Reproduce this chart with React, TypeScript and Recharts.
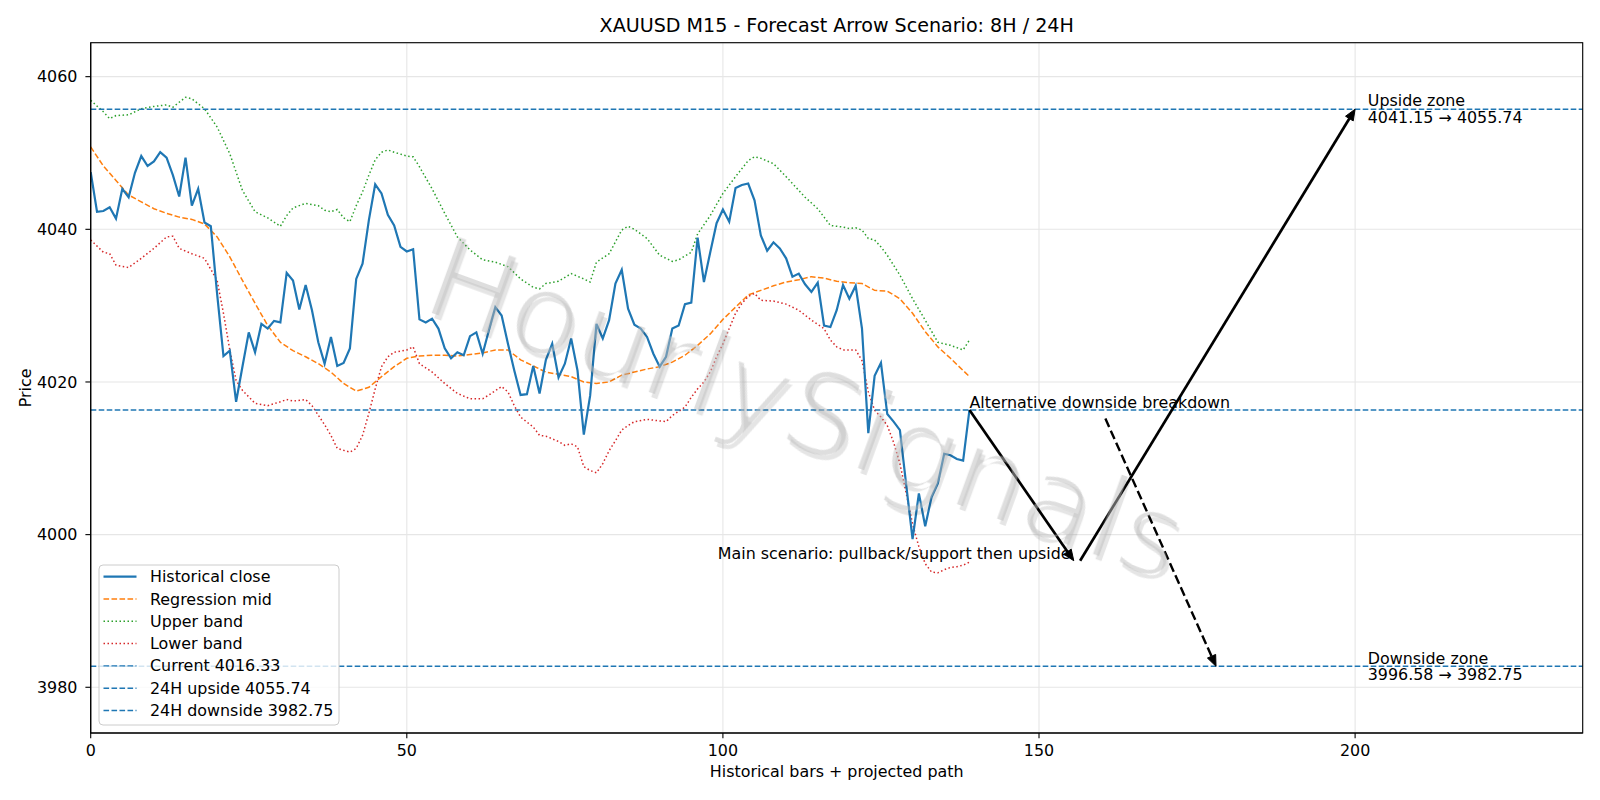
import React from "react";
import { LineChart, Line, XAxis, YAxis, CartesianGrid, ReferenceLine, ReferenceDot } from "recharts";

// M15 closes, oldest first (bar index = position in the array)
const closes = [
  4047.5, 4042.3, 4042.4, 4042.9, 4041.4, 4045.3, 4044.2, 4047.4, 4049.6, 4048.3,
  4048.9, 4050.1, 4049.4, 4047.1, 4044.3, 4049.4, 4043.1, 4045.3, 4040.9, 4040.4,
  4031.5, 4023.4, 4024.1, 4017.4, 4022.0, 4026.5, 4023.9, 4027.6, 4027.0, 4028.0,
  4027.8, 4034.3, 4033.3, 4029.5, 4032.7, 4029.4, 4025.2, 4022.4, 4025.9, 4022.1,
  4022.5, 4024.4, 4033.5, 4035.5, 4041.2, 4045.9, 4044.7, 4041.9, 4040.5, 4037.7,
  4037.1, 4037.4, 4028.2, 4027.8, 4028.3, 4027.0, 4024.4, 4023.1, 4023.9, 4023.5,
  4026.0, 4026.5, 4023.7, 4026.8, 4029.8, 4028.7, 4025.0, 4021.5, 4018.3, 4018.4,
  4022.1, 4018.5, 4022.9, 4025.0, 4020.6, 4022.4, 4025.7, 4021.5, 4013.1, 4018.2,
  4027.6, 4025.7, 4028.1, 4032.9, 4034.7, 4029.6, 4027.5, 4027.0, 4025.9, 4023.7,
  4022.0, 4023.3, 4027.0, 4027.4, 4030.2, 4030.4, 4038.9, 4033.1, 4037.0, 4040.8,
  4042.6, 4041.0, 4045.4, 4045.8, 4046.0, 4043.8, 4039.2, 4037.2, 4038.3, 4037.5,
  4036.2, 4033.8, 4034.2, 4032.8, 4031.8, 4033.0, 4027.4, 4027.2, 4029.4, 4032.7,
  4030.9, 4032.6, 4027.0, 4013.3, 4020.8, 4022.5, 4015.8, 4014.8, 4013.7, 4006.5,
  3999.4, 4005.4, 4001.1, 4004.9, 4006.7, 4010.6, 4010.4, 4009.9, 4009.7, 4016.33,
];

const midBars = [
  0, 2, 4, 6, 8, 10, 12, 14, 16, 18, 20, 22, 24, 26, 28, 30, 32, 34, 36, 38, 40, 42, 44, 46, 48,
  50, 52, 54, 56, 58, 60, 62, 64, 66, 68, 70, 72, 74, 76, 78, 80, 82, 84, 86, 88, 90, 92, 94, 96,
  98, 100, 102, 104, 106, 108, 110, 112, 114, 116, 118, 120, 122, 124, 126, 128, 130, 132, 134,
  136, 138, 139,
];
const midValues = [
  4050.8, 4048.3, 4046.4, 4044.5, 4043.6, 4042.7, 4042.1, 4041.6, 4041.3, 4040.7, 4039.0, 4036.4,
  4033.3, 4030.3, 4027.4, 4025.2, 4024.1, 4023.3, 4022.4, 4021.3, 4019.8, 4018.8, 4019.3, 4020.7,
  4022.0, 4023.1, 4023.4, 4023.5, 4023.5, 4023.4, 4023.6, 4023.8, 4024.2, 4024.2, 4022.9, 4022.1,
  4021.3, 4021.0, 4020.7, 4020.0, 4019.8, 4020.0, 4020.9, 4021.3, 4021.7, 4022.0, 4022.6, 4023.5,
  4024.8, 4026.3, 4028.2, 4029.8, 4031.4, 4032.0, 4032.6, 4033.1, 4033.4, 4033.8, 4033.6, 4033.2,
  4033.0, 4032.9, 4032.0, 4031.9, 4030.9, 4029.0, 4026.6, 4024.6, 4023.1, 4021.5, 4020.7,
];

const upperBars = [
  0, 2, 3, 4, 6, 8, 10, 12, 13, 15, 16, 18, 20, 22, 24, 26, 28, 30, 31, 32, 34, 36, 37, 38, 39,
  40, 41, 42, 43, 44, 45, 46, 47, 48, 50, 51, 52, 54, 56, 58, 60, 62, 64, 66, 68, 70, 71, 72, 74,
  76, 78, 79, 80, 82, 84, 85, 86, 88, 90, 92, 93, 95, 96, 98, 100, 102, 104, 105, 106, 108, 110,
  111, 113, 115, 116, 117, 119, 120, 121, 122, 123, 124, 125, 126, 128, 130, 132, 134, 136, 138,
  139,
];
const upperValues = [
  4056.9, 4055.4, 4054.5, 4054.9, 4055.0, 4055.8, 4056.1, 4056.3, 4056.0, 4057.3, 4057.1, 4055.8,
  4053.4, 4049.9, 4045.1, 4042.3, 4041.5, 4040.4, 4041.8, 4042.8, 4043.4, 4043.1, 4042.5, 4042.3,
  4042.6, 4041.5, 4041.0, 4043.1, 4044.9, 4047.1, 4049.1, 4050.1, 4050.4, 4050.1, 4049.6, 4049.5,
  4048.2, 4045.3, 4042.1, 4039.0, 4037.3, 4036.0, 4035.7, 4035.1, 4033.5, 4032.4, 4032.2, 4032.9,
  4033.2, 4034.2, 4033.5, 4033.1, 4035.7, 4036.8, 4039.9, 4040.4, 4040.0, 4038.8, 4036.6, 4035.8,
  4036.0, 4037.0, 4039.4, 4041.8, 4044.7, 4046.9, 4049.0, 4049.5, 4049.3, 4048.6, 4046.9, 4046.0,
  4044.2, 4042.7, 4041.6, 4040.5, 4040.3, 4040.1, 4040.2, 4039.9, 4038.8, 4038.6, 4037.7, 4036.6,
  4034.0, 4030.9, 4028.1, 4025.2, 4024.8, 4024.2, 4025.5,
];

const lowerBars = [
  0, 2, 3, 4, 6, 8, 10, 12, 13, 14, 16, 18, 20, 21, 22, 23, 24, 26, 28, 30, 31, 32, 34, 35, 37,
  38, 39, 41, 42, 43, 44, 45, 46, 47, 48, 50, 51, 52, 54, 56, 58, 60, 62, 63, 65, 66, 67, 68, 70,
  71, 72, 74, 75, 76, 77, 78, 79, 80, 81, 82, 83, 84, 85, 86, 88, 90, 91, 92, 94, 95, 96, 97, 98,
  99, 100, 101, 102, 103, 104, 105, 106, 108, 110, 112, 114, 116, 117, 118, 119, 121, 122, 123,
  124, 125, 126, 127, 128, 129, 130, 131, 132, 133, 134, 135, 136, 137, 138, 139,
];
const lowerValues = [
  4038.6, 4037.0, 4036.8, 4035.3, 4035.0, 4036.2, 4037.5, 4039.0, 4039.1, 4037.5, 4036.8, 4036.2,
  4033.3, 4029.0, 4024.2, 4020.2, 4018.9, 4017.2, 4016.9, 4017.4, 4017.7, 4017.5, 4017.7, 4016.9,
  4014.4, 4013.0, 4011.3, 4010.8, 4011.3, 4013.0, 4015.9, 4019.1, 4022.0, 4023.3, 4023.9, 4024.2,
  4024.6, 4022.4, 4021.3, 4019.8, 4018.5, 4017.8, 4017.8, 4018.3, 4019.4, 4018.7, 4016.9, 4015.4,
  4014.1, 4013.0, 4012.9, 4012.2, 4011.7, 4011.9, 4011.5, 4008.9, 4008.4, 4008.1, 4009.3, 4011.0,
  4012.3, 4013.7, 4014.3, 4014.8, 4015.1, 4014.9, 4014.8, 4015.6, 4016.7, 4018.0, 4019.1, 4020.0,
  4021.3, 4023.3, 4025.0, 4027.0, 4029.0, 4030.3, 4031.2, 4031.6, 4030.7, 4030.6, 4030.2, 4029.4,
  4028.1, 4027.0, 4025.5, 4024.6, 4024.2, 4024.2, 4022.8, 4018.7, 4016.3, 4015.4, 4014.3, 4012.1,
  4009.3, 4005.4, 4001.4, 3998.4, 3996.2, 3995.1, 3995.0, 3995.4, 3995.7, 3995.8, 3996.0, 3996.4,
];

const currentPrice = 4016.33;
const upsideTarget = 4055.74;
const downsideTarget = 3982.75;
const upsideZoneFrom = 4041.15;
const downsideZoneFrom = 3996.58;

// projected path: pullback leg, then the upside leg; alternative breakdown leg
const pullbackLeg = [{ x: 139, y: currentPrice }, { x: 155.5, y: 3996.58 }];
const upsideLeg = [{ x: 156.5, y: 3996.58 }, { x: 200, y: upsideTarget }];
const breakdownLeg = [{ x: 160.5, y: 4015.2 }, { x: 178, y: downsideTarget }];

const xTicks = [0, 50, 100, 150, 200];
const yTicks = [3980, 4000, 4020, 4040, 4060];

const closeData = closes.map((v, i) => ({ bar: i, close: v }));
const midData = midBars.map((b, i) => ({ bar: b, mid: midValues[i] }));
const upperData = upperBars.map((b, i) => ({ bar: b, upper: upperValues[i] }));
const lowerData = lowerBars.map((b, i) => ({ bar: b, lower: lowerValues[i] }));

const FONT = "'DejaVu Sans', sans-serif";
const FS = 15.9;
const BLUE = "#1f77b4";
const DASH = "5.6 2.4";
const DOT = "1.5 2.5";
const PLOT = { left: 90.7, top: 42.7, right: 1582.7, bottom: 733 };

function arrowShape(width: number, dash?: string) {
  return (p: any) => {
    const { x1, y1, x2, y2 } = p;
    const a = Math.atan2(y2 - y1, x2 - x1);
    const hl = 11;
    const hw = 4.5;
    const bx = x2 - hl * Math.cos(a);
    const by = y2 - hl * Math.sin(a);
    const nx = -Math.sin(a) * hw;
    const ny = Math.cos(a) * hw;
    return (
      <g>
        <line x1={x1} y1={y1} x2={bx} y2={by} stroke="#000" strokeWidth={width} strokeDasharray={dash} />
        <polygon
          points={`${bx + nx},${by + ny} ${x2},${y2} ${bx - nx},${by - ny}`}
          fill="#000"
          stroke="#000"
          strokeWidth={1}
        />
      </g>
    );
  };
}

function textAt(lines: string[], anchor: "start" | "end", mode: "bottom" | "center") {
  return (p: any) => {
    const { cx, cy } = p;
    if (mode === "bottom") {
      return (
        <text x={cx} y={cy - 2} textAnchor={anchor} fontFamily={FONT} fontSize={FS} fill="#000">
          {lines[0]}
        </text>
      );
    }
    return (
      <g>
        {lines.map((t, i) => (
          <text
            key={t}
            x={cx}
            y={cy + (i - (lines.length - 1) / 2) * 16.5}
            textAnchor={anchor}
            dominantBaseline="central"
            fontFamily={FONT}
            fontSize={FS}
            fill="#000"
          >
            {t}
          </text>
        ))}
      </g>
    );
  };
}

const legendItems = [
  { label: "Historical close", color: BLUE, width: 2.2, dash: undefined },
  { label: "Regression mid", color: "#ff7f0e", width: 1.5, dash: DASH },
  { label: "Upper band", color: "#2ca02c", width: 1.5, dash: DOT },
  { label: "Lower band", color: "#d62728", width: 1.5, dash: DOT },
  { label: `Current ${currentPrice.toFixed(2)}`, color: BLUE, width: 1.4, dash: DASH },
  { label: `24H upside ${upsideTarget.toFixed(2)}`, color: BLUE, width: 1.4, dash: DASH },
  { label: `24H downside ${downsideTarget.toFixed(2)}`, color: BLUE, width: 1.4, dash: DASH },
];

export default function App() {
  const axisTick = { fill: "#000", fontSize: FS, fontFamily: FONT };
  return (
    <div style={{ position: "absolute", left: 0, top: 0, width: 1600, height: 800, background: "#fff" }}>
      <LineChart
        width={1600}
        height={800}
        data={closeData}
        margin={{ top: PLOT.top, right: 1600 - PLOT.right, bottom: 800 - PLOT.bottom - 30, left: PLOT.left - 60 }}
      >
        <CartesianGrid stroke="#e6e6e6" strokeWidth={1.1} />
        <XAxis
          type="number"
          dataKey="bar"
          domain={[0, 236]}
          ticks={xTicks}
          allowDataOverflow
          height={30}
          tickSize={5.3}
          tickMargin={6.5}
          tick={axisTick}
          axisLine={{ stroke: "#000", strokeWidth: 1.1 }}
          tickLine={{ stroke: "#000", strokeWidth: 1.1 }}
        />
        <YAxis
          type="number"
          domain={[3974.01, 4064.45]}
          ticks={yTicks}
          allowDataOverflow
          width={60}
          tickSize={5.3}
          tickMargin={8}
          tick={axisTick}
          axisLine={{ stroke: "#000", strokeWidth: 1.1 }}
          tickLine={{ stroke: "#000", strokeWidth: 1.1 }}
        />
        <Line data={midData} dataKey="mid" stroke="#ff7f0e" strokeWidth={1.5} strokeDasharray={DASH} dot={false} isAnimationActive={false} />
        <Line data={upperData} dataKey="upper" stroke="#2ca02c" strokeWidth={1.5} strokeDasharray={DOT} dot={false} isAnimationActive={false} />
        <Line data={lowerData} dataKey="lower" stroke="#d62728" strokeWidth={1.5} strokeDasharray={DOT} dot={false} isAnimationActive={false} />
        <Line dataKey="close" stroke={BLUE} strokeWidth={2.2} dot={false} isAnimationActive={false} />
        <ReferenceLine y={currentPrice} stroke={BLUE} strokeWidth={1.4} strokeDasharray={DASH} />
        <ReferenceLine y={upsideTarget} stroke={BLUE} strokeWidth={1.4} strokeDasharray={DASH} />
        <ReferenceLine y={downsideTarget} stroke={BLUE} strokeWidth={1.4} strokeDasharray={DASH} />
        <ReferenceLine segment={pullbackLeg} shape={arrowShape(2.7)} />
        <ReferenceLine segment={upsideLeg} shape={arrowShape(2.7)} />
        <ReferenceLine segment={breakdownLeg} shape={arrowShape(2.4, "9.2 4")} />
        <ReferenceDot
          x={139}
          y={currentPrice}
          r={0}
          shape={textAt(["Alternative downside breakdown"], "start", "bottom")}
        />
        <ReferenceDot
          x={155}
          y={downsideZoneFrom}
          r={0}
          shape={textAt(["Main scenario: pullback/support then upside"], "end", "bottom")}
        />
        <ReferenceDot
          x={202}
          y={upsideTarget}
          r={0}
          shape={textAt(["Upside zone", `${upsideZoneFrom.toFixed(2)} \u2192 ${upsideTarget.toFixed(2)}`], "start", "center")}
        />
        <ReferenceDot
          x={202}
          y={downsideTarget}
          r={0}
          shape={textAt(["Downside zone", `${downsideZoneFrom.toFixed(2)} \u2192 ${downsideTarget.toFixed(2)}`], "start", "center")}
        />
      </LineChart>

      <svg
        width={1600}
        height={800}
        style={{ position: "absolute", left: 0, top: 0, pointerEvents: "none" }}
      >
        <defs>
          <filter id="thin" x="-5%" y="-20%" width="110%" height="140%">
            <feMorphology operator="erode" radius="1.8" />
          </filter>
        </defs>
        <rect
          x={PLOT.left}
          y={PLOT.top}
          width={PLOT.right - PLOT.left}
          height={PLOT.bottom - PLOT.top}
          fill="none"
          stroke="#000"
          strokeWidth={1.1}
        />
        <text x={836.7} y={32.3} textAnchor="middle" fontFamily={FONT} fontSize={19.1} fill="#000">
          XAUUSD M15 - Forecast Arrow Scenario: 8H / 24H
        </text>
        <text x={836.7} y={777} textAnchor="middle" fontFamily={FONT} fontSize={FS} fill="#000">
          Historical bars + projected path
        </text>
        <text
          x={25.5}
          y={387.9}
          textAnchor="middle"
          dominantBaseline="central"
          fontFamily={FONT}
          fontSize={FS}
          fill="#000"
          transform="rotate(-90 25.5 387.9)"
        >
          Price
        </text>

        <g>
          <rect x={99} y={565} width={240} height={160} rx={4} fill="#fff" fillOpacity={0.8} stroke="#cccccc" strokeWidth={1} />
          {legendItems.map((it, i) => {
            const y = 576.7 + i * 22.3;
            return (
              <g key={it.label}>
                <line x1={103.5} y1={y} x2={136.5} y2={y} stroke={it.color} strokeWidth={it.width} strokeDasharray={it.dash} />
                <text x={150} y={y} dominantBaseline="central" fontFamily={FONT} fontSize={FS} fill="#000">
                  {it.label}
                </text>
              </g>
            );
          })}
        </g>

        <g transform="translate(807 408) rotate(20)">
          <text
            x={4}
            y={4}
            textAnchor="middle"
            dominantBaseline="central"
            fontFamily={FONT}
            fontSize={116}
            fill="#000"
            fillOpacity={0.1}
            filter="url(#thin)"
          >
            HourlySignals
          </text>
          <text
            x={0}
            y={0}
            textAnchor="middle"
            dominantBaseline="central"
            fontFamily={FONT}
            fontSize={116}
            fill="#bdbdbd"
            fillOpacity={0.5}
            filter="url(#thin)"
          >
            HourlySignals
          </text>
        </g>
      </svg>
    </div>
  );
}
